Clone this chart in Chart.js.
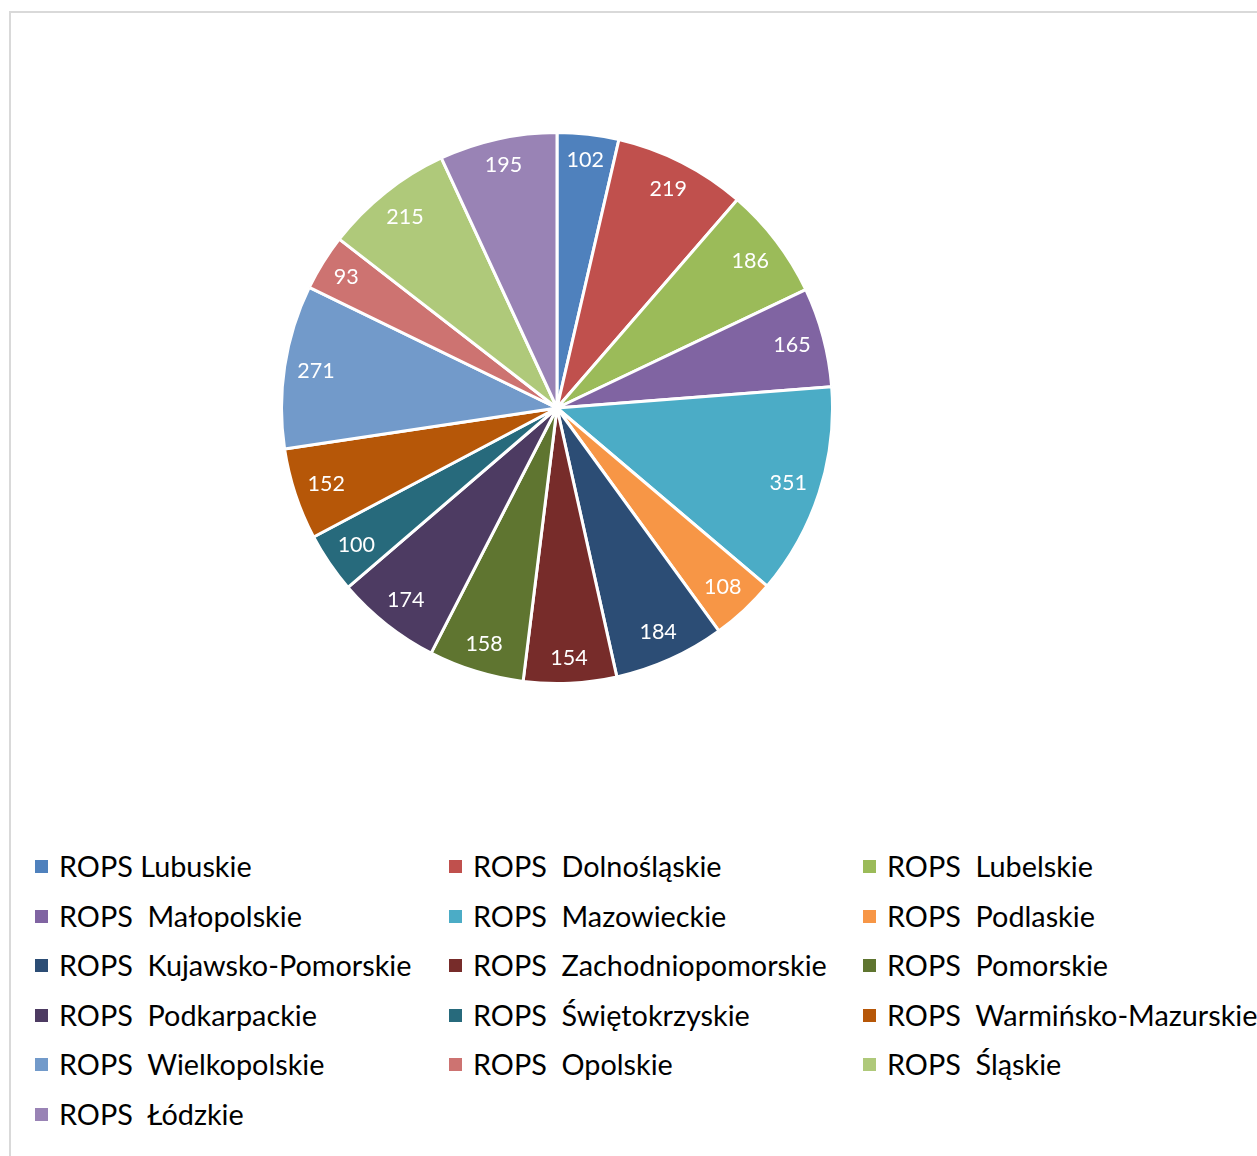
<!DOCTYPE html>
<html>
<head>
<meta charset="utf-8">
<script src="https://cdn.jsdelivr.net/npm/chart.js@4"></script>
<style>
  html, body { margin: 0; padding: 0; background: #fff; }
  body { width: 1257px; height: 1156px; overflow: hidden; position: relative; font-family: Lato, "Open Sans", sans-serif; }
  .frame { position: absolute; left: 9px; top: 11px; width: 1400px; height: 1300px; border-top: 2px solid #d9d9d9; border-left: 2px solid #d9d9d9; }
  #wrap { position: absolute; left: 280px; top: 131px; width: 554px; height: 554px; }
  .leg { position: absolute; white-space: pre; font-size: 28.8px; color: #000; line-height: 30px; }
  .leg i { position: absolute; left: -24px; top: 9px; width: 13px; height: 13px; }
</style>
</head>
<body>
<div class="frame"></div>
<div id="wrap"><canvas id="pieChart"></canvas></div>
<div id="legend"></div>
<script>
// nazwy regionów (kolejność jak w legendzie i na wykresie)
const labels = [
  "ROPS Lubuskie", "ROPS  Dolnośląskie", "ROPS  Lubelskie",
  "ROPS  Małopolskie", "ROPS  Mazowieckie", "ROPS  Podlaskie",
  "ROPS  Kujawsko-Pomorskie", "ROPS  Zachodniopomorskie", "ROPS  Pomorskie",
  "ROPS  Podkarpackie", "ROPS  Świętokrzyskie", "ROPS  Warmińsko-Mazurskie",
  "ROPS  Wielkopolskie", "ROPS  Opolskie", "ROPS  Śląskie",
  "ROPS  Łódzkie"
];

// wartości
const values = [102, 219, 186, 165, 351, 108, 184, 154, 158, 174, 100, 152, 271, 93, 215, 195];

// kolory (paleta Office)
const colors = [
  "#4F81BD", "#C0504D", "#9BBB59", "#8064A2", "#4BACC6", "#F79646",
  "#2C4D75", "#772C2A", "#5F7530", "#4D3B62", "#276A7C", "#B65708",
  "#729ACA", "#CD7371", "#AFC97A", "#9983B5"
];

// etykiety z wartościami wewnątrz wycinków (przy krawędzi, jak "inside end")
const valueLabels = {
  id: "valueLabels",
  afterDatasetsDraw(chart) {
    const ctx = chart.ctx;
    const meta = chart.getDatasetMeta(0);
    ctx.save();
    ctx.fillStyle = "#fff";
    ctx.font = "21.5px Lato, sans-serif";
    ctx.textAlign = "center";
    ctx.textBaseline = "middle";
    meta.data.forEach((arc, i) => {
      const p = arc.getProps(["x", "y", "startAngle", "endAngle", "outerRadius"], true);
      const mid = (p.startAngle + p.endAngle) / 2;
      const txt = String(values[i]);
      const halfW = ctx.measureText(txt).width / 2 - 4;
      const c = Math.cos(mid), s = Math.sin(mid);
      const r = p.outerRadius - 16 - (Math.abs(c) * halfW + Math.abs(s) * 8);
      ctx.fillText(txt, p.x + c * r, p.y + s * r);
    });
    ctx.restore();
  }
};

new Chart(document.getElementById("pieChart"), {
  type: "pie",
  data: {
    labels: labels,
    datasets: [{
      data: values,
      backgroundColor: colors,
      borderColor: "#fff",
      borderWidth: 3
    }]
  },
  options: {
    responsive: true,
    maintainAspectRatio: false,
    animation: false,
    plugins: {
      legend: { display: false },
      tooltip: { enabled: false }
    }
  },
  plugins: [valueLabels]
});

// legenda w trzech kolumnach
const legend = document.getElementById("legend");
const colX = [59, 473, 887];
const rowY = 851, rowStep = 49.6;
labels.forEach((name, i) => {
  const d = document.createElement("div");
  d.className = "leg";
  d.style.left = colX[i % 3] + "px";
  d.style.top = (rowY + Math.floor(i / 3) * rowStep) + "px";
  d.textContent = name;
  const sq = document.createElement("i");
  sq.style.background = colors[i];
  d.prepend(sq);
  legend.appendChild(d);
});
</script>
</body>
</html>
